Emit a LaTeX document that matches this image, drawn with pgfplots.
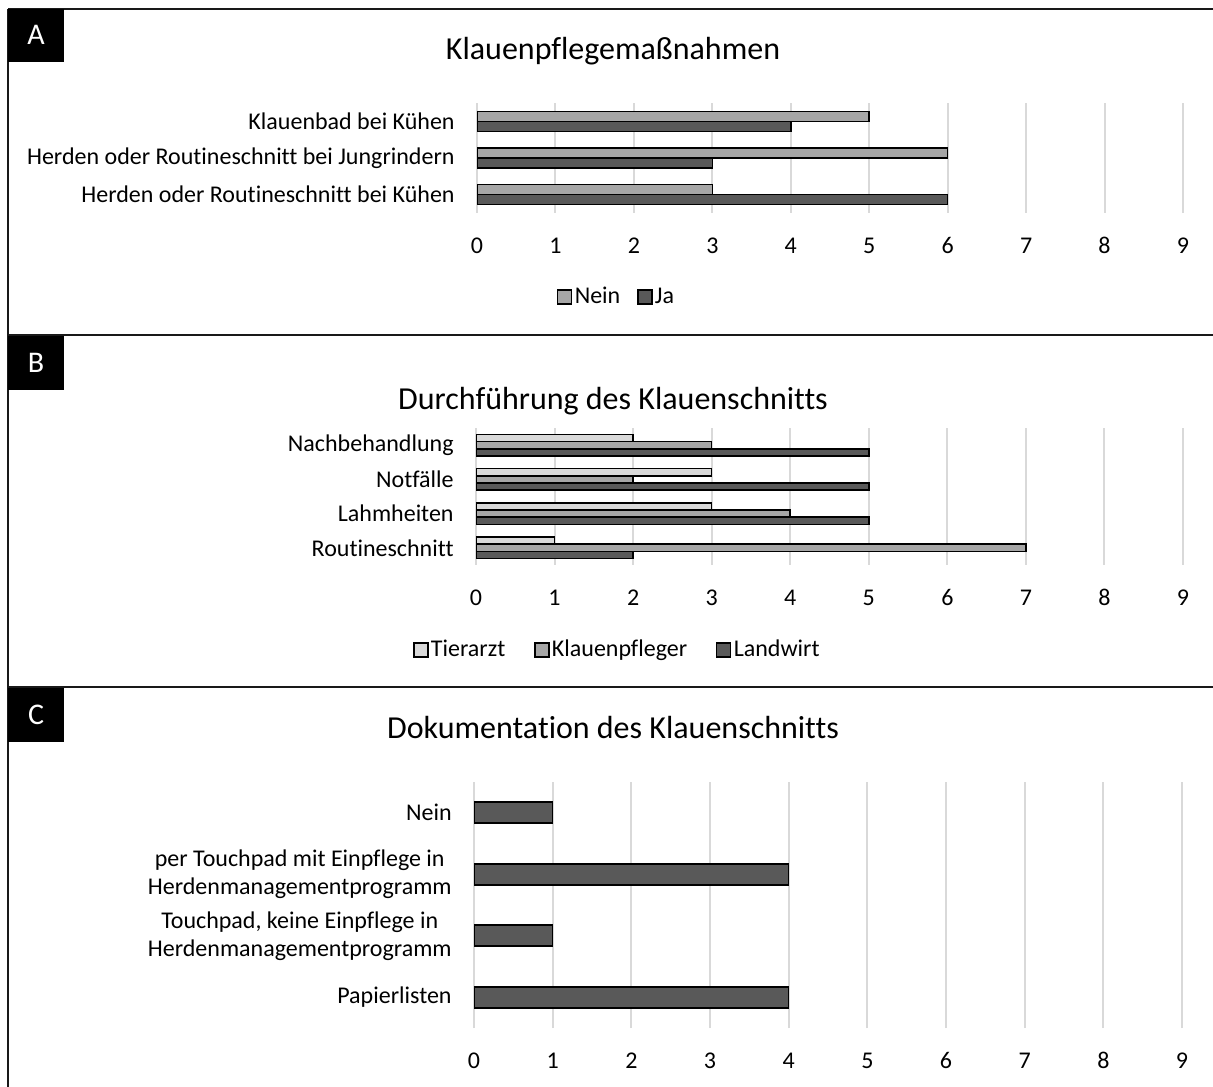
\documentclass[border=0pt]{standalone}
\usepackage{pgfplots}
\pgfplotsset{compat=1.18}
\usepackage{fontspec}
\setmainfont{Carlito}[Ligatures=NoCommon]
\definecolor{cLight}{HTML}{D9D9D9}
\definecolor{cMid}{HTML}{A6A6A6}
\definecolor{cDark}{HTML}{595959}
\definecolor{cGrid}{HTML}{D9D9D9}

\pgfplotsset{
  panel/.style={
    scale only axis, xbar,
    xmin=0, xmax=9, xtick={0,...,9},
    axis line style={draw=none}, major tick length=0pt,
    xmajorgrids, major grid style={cGrid, line width=1pt},
    tick label style={font=\fontsize{12}{14}\selectfont},
    /pgf/number format/assume math mode=true,
    xticklabel style={anchor=base, yshift=-20.3pt},
    yticklabel style={anchor=east, inner sep=0pt, xshift=-11pt, align=center},
    legend style={draw=none, fill=none, font=\fontsize{12}{14}\selectfont,
      legend columns=-1, inner sep=0pt,
      nodes={inner sep=1.2pt}},
    legend image code/.code={\draw[#1, line width=0.9pt] (0pt,-3.5pt) rectangle (7pt,3.5pt);},
    every axis plot/.append style={draw=black, line width=0.8pt},
  },
}

\begin{document}
\begin{tikzpicture}
\useasboundingbox (0,0) rectangle (606.5pt,543pt);

% frames
\draw[line width=1pt, black!90] (4pt,538.5pt) -- (610pt,538.5pt);
\draw[line width=1pt, black!90] (4pt,375.5pt) -- (610pt,375.5pt);
\draw[line width=1pt, black!90] (4pt,199.5pt) -- (610pt,199.5pt);
\draw[line width=1pt, black!90] (4pt,538.5pt) -- (4pt,-5pt);

% label boxes
\fill[black] (4pt,538.5pt) rectangle (32pt,512pt);
\node[text=white, font=\fontsize{15}{18}\selectfont] at (18pt,525.5pt) {A};
\fill[black] (4pt,375pt) rectangle (32pt,348pt);
\node[text=white, font=\fontsize{15}{18}\selectfont] at (18pt,361.5pt) {B};
\fill[black] (4pt,199pt) rectangle (32pt,172pt);
\node[text=white, font=\fontsize{15}{18}\selectfont] at (18pt,185.5pt) {C};

% titles
\node[font=\fontsize{16}{19}\selectfont] at (306.5pt,517.5pt) {Klauenpflegemaßnahmen};
\node[font=\fontsize{16}{19}\selectfont] at (306.5pt,342.5pt) {Durchführung des Klauenschnitts};
\node[font=\fontsize{16}{19}\selectfont] at (306.5pt,179pt) {Dokumentation des Klauenschnitts};

% Panel A
\begin{axis}[panel,
  at={(238.5pt,436.5pt)}, anchor=south west,
  width=353pt, height=55pt,
  ymin=-0.5, ymax=2.5, ytick={0,1,2},
  yticklabels={Herden oder Routineschnitt bei Kühen, Herden oder Routineschnitt bei Jungrindern, Klauenbad bei Kühen},
  bar width=5pt,
  legend style={at={(0.1976,-0.764)}, anchor=center,
    /tikz/every even column/.append style={column sep=7pt}},
]
\addplot[fill=cMid, bar shift=2.5pt] coordinates {(3,0) (6,1) (5,2)};
\addplot[fill=cDark, bar shift=-2.5pt] coordinates {(6,0) (3,1) (4,2)};
\legend{Nein, Ja}
\end{axis}

% Panel B
\begin{axis}[panel,
  at={(238pt,260.5pt)}, anchor=south west,
  width=353.5pt, height=68.5pt,
  ymin=-0.5, ymax=3.5, ytick={0,1,2,3},
  yticklabels={Routineschnitt, Lahmheiten, Notfälle, Nachbehandlung},
  bar width=3.6pt,
  legend style={at={(0.200,-0.62)}, anchor=center,
    /tikz/every even column/.append style={column sep=13pt}},
]
\addplot[fill=cLight, bar shift=3.6pt] coordinates {(1,0) (3,1) (3,2) (2,3)};
\addplot[fill=cMid, bar shift=0pt] coordinates {(7,0) (4,1) (2,2) (3,3)};
\addplot[fill=cDark, bar shift=-3.6pt] coordinates {(2,0) (5,1) (5,2) (5,3)};
\legend{Tierarzt, Klauenpfleger, Landwirt}
\end{axis}

% Panel C
\begin{axis}[panel,
  at={(237pt,29pt)}, anchor=south west,
  width=354pt, height=123pt,
  ymin=-0.5, ymax=3.5, ytick={0,1,2,3},
  yticklabels={Papierlisten, {Touchpad, keine Einpflege in\\Herdenmanagementprogramm}, {per Touchpad mit Einpflege in\\Herdenmanagementprogramm}, Nein},
  bar width=10.5pt,
]
\addplot[fill=cDark, bar shift=0pt] coordinates {(4,0) (1,1) (4,2) (1,3)};
\end{axis}
\end{tikzpicture}
\end{document}
